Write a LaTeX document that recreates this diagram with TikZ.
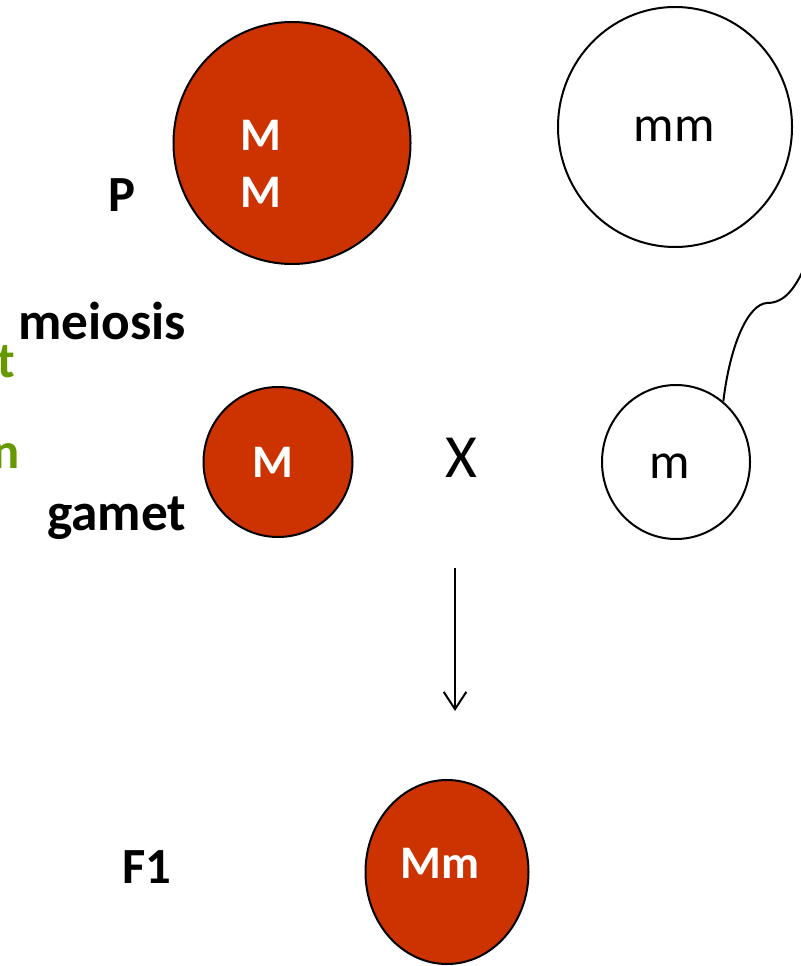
\documentclass[tikz,border=0pt]{standalone}
\usepackage{fontspec}
\setmainfont{Carlito}
\usetikzlibrary {arrows.meta, shapes.geometric, positioning}
\definecolor{cellred}{RGB}{204,51,0}
\definecolor{labgreen}{RGB}{102,153,0}
\tikzset{
  >={Straight Barb[length=13pt,width=17pt]},
  cell/.style={draw, line width=1.5pt, ellipse, inner sep=0pt},
  redcell/.style={cell, fill=cellred},
  whitecell/.style={cell, fill=white},
  lab/.style={font=\fontsize{38}{44}\selectfont\bfseries, inner sep=0pt},
  widelab/.style={lab, font=\fontsize{40}{46}\selectfont\bfseries},
  geno/.style={font=\fontsize{35}{42}\selectfont\bfseries, text=white, inner sep=0pt, anchor=base},
  plaingeno/.style={font=\fontsize{38}{44}\selectfont, inner sep=0pt, anchor=base}
}

\begin{document}
\begin{tikzpicture}[x=0.75pt, y=-0.75pt]
    \useasboundingbox (0, 0) rectangle (800, 966);
    % cells
    % P
    \node[redcell, minimum width=177.75pt, minimum height=181.5pt] (PMM) at (292, 143) {};
    \node[whitecell, minimum width=175.5pt, minimum height=180pt] (Pmm) at (675, 127) {};
    \node[geno] (PMMa) at (261, 151) {M};
    \node[geno] (PMMb) at (261, 208) {M};
    \node[plaingeno] (Pmmtext) at (674, 142) {mm};
    % gamet
    \node[redcell, minimum width=111.75pt, minimum height=112.5pt] (gM) at (278, 462) {};
    \node[whitecell, minimum width=111pt, minimum height=115.5pt] (gm) at (676, 462) {};
    \node[geno] (gMtext) at (273, 477) {M};
    \node[plaingeno] (gmtext) at (670, 478) {m};
    \node[font=\fontsize{46}{54}\selectfont, inner sep=0pt, anchor=base] (cross) at (461, 477) {X};
    % F1
    \node[redcell, minimum width=122.25pt, minimum height=138pt] (F1cell) at (447, 872) {};
    \node[geno] (F1text) at (440, 878) {Mm};
    % labels
    \node[lab, anchor=base west] (Plab) at (108, 212) {P};
    \node[widelab, anchor=base west] (meiosislab) at (18, 339) {meiosis};
    \node[widelab, anchor=base west] (gametlab) at (47, 530) {gamet};
    \node[lab, anchor=base west] (F1lab) at (122, 883) {F1};
    \node[lab, text=labgreen, anchor=base east] (greent) at (15, 377) {t};
    \node[lab, text=labgreen, anchor=base east] (greenn) at (20, 468) {n};
    % brace
    \coordinate (bracetop) at (812, 248);
    \draw[line width=1.5pt] (bracetop) .. controls (798, 288) and (785, 303) .. (767, 303)
        .. controls (748, 304) and (730, 345) .. (gm.52);
    % arrow
    \coordinate (arrtop) at (455, 568);
    \coordinate (arrtip) at (455, 711);
    \draw[->, line width=1.5pt] (arrtop) -- (arrtip);
\end{tikzpicture}
\end{document}
